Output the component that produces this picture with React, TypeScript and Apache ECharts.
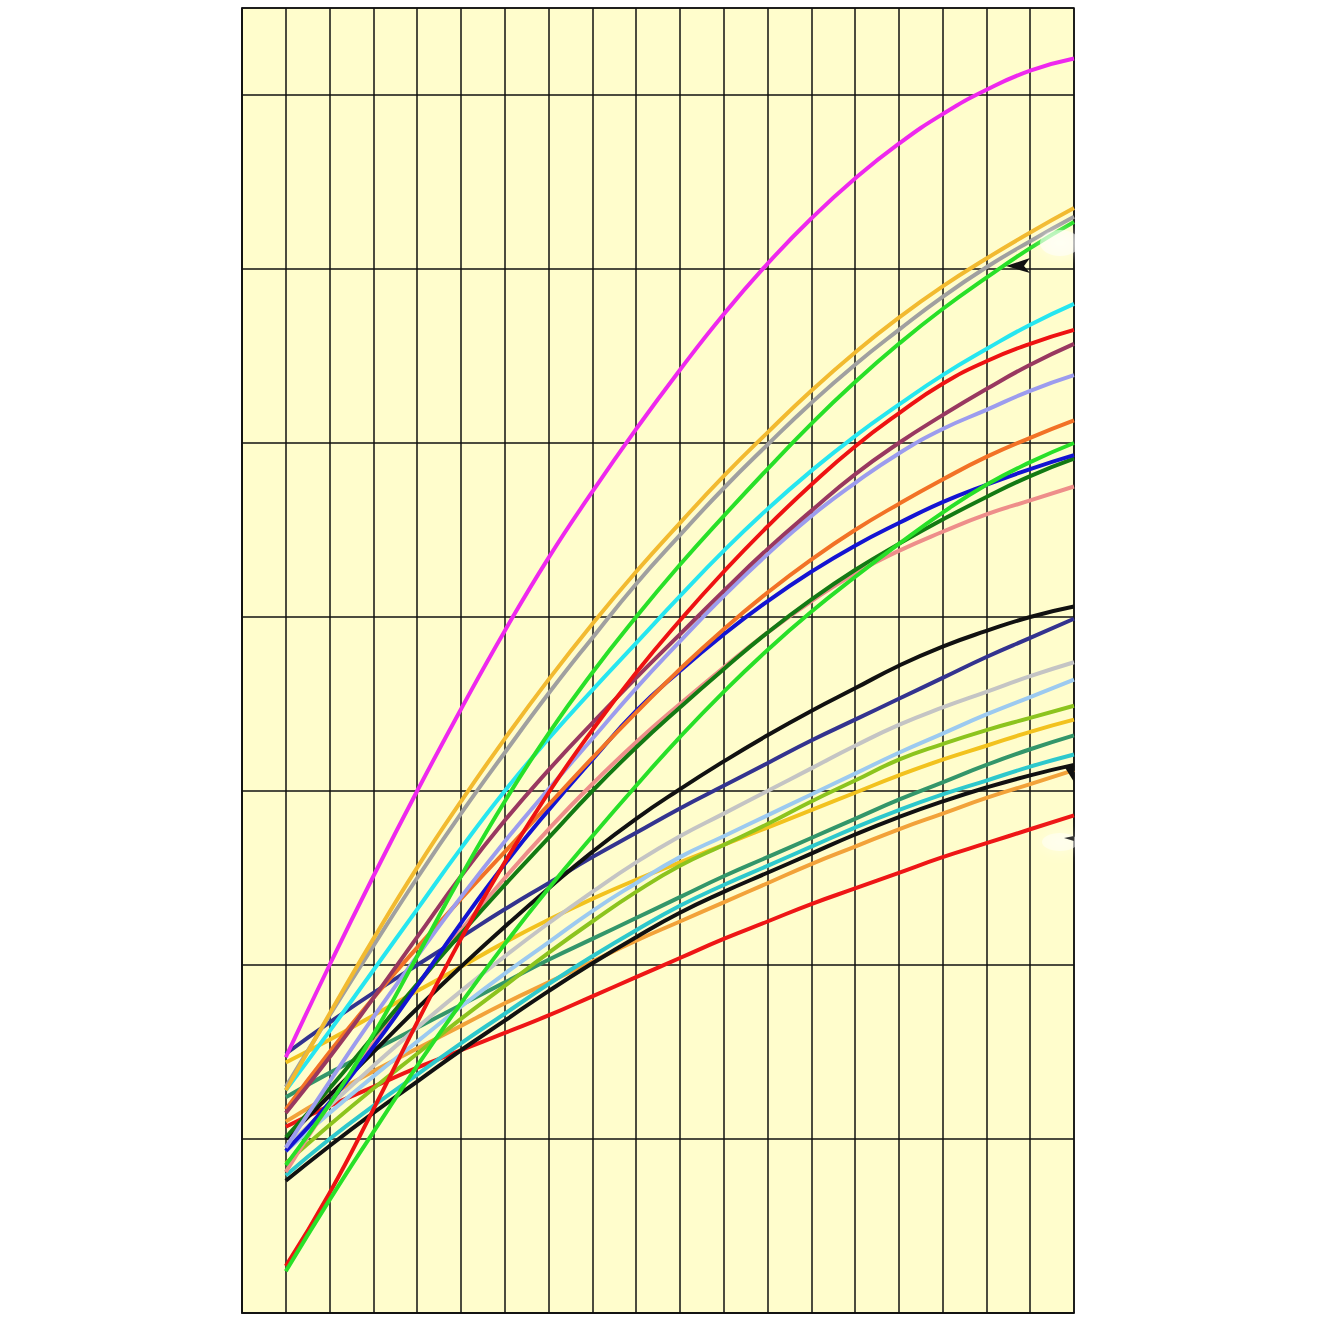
import React, { useEffect, useRef } from "react";
import * as echarts from "echarts";

const ages = [1, 2, 3, 4, 5, 6, 7, 8, 9, 10, 11, 12, 13, 14, 15, 16, 17, 18, 19];

const magenta = [1.47, 2.0, 2.51, 3.0, 3.47, 3.92, 4.34, 4.72, 5.08, 5.42, 5.74, 6.03, 6.29, 6.52, 6.72, 6.89, 7.03, 7.14, 7.21];
const goldTop = [1.28, 1.72, 2.15, 2.56, 2.94, 3.3, 3.64, 3.96, 4.26, 4.54, 4.81, 5.06, 5.3, 5.52, 5.72, 5.9, 6.06, 6.21, 6.35];
const gray = [1.3, 1.71, 2.11, 2.5, 2.87, 3.22, 3.56, 3.88, 4.19, 4.47, 4.74, 4.99, 5.23, 5.45, 5.65, 5.84, 6.01, 6.16, 6.3];
const greenTop = [0.85, 1.2, 1.6, 2.05, 2.51, 2.94, 3.33, 3.68, 4.0, 4.3, 4.58, 4.85, 5.11, 5.35, 5.57, 5.77, 5.95, 6.12, 6.27];
const greenLow = [0.24, 0.65, 1.04, 1.42, 1.78, 2.12, 2.44, 2.74, 3.03, 3.31, 3.57, 3.81, 4.03, 4.23, 4.42, 4.6, 4.76, 4.89, 5.0];
const cyan = [1.28, 1.62, 1.97, 2.32, 2.67, 3.0, 3.3, 3.58, 3.85, 4.12, 4.38, 4.62, 4.84, 5.04, 5.22, 5.39, 5.54, 5.68, 5.8];
const redTop = [0.27, 0.69, 1.17, 1.67, 2.15, 2.59, 2.99, 3.35, 3.68, 3.98, 4.26, 4.52, 4.76, 4.98, 5.17, 5.34, 5.47, 5.57, 5.65];
const purple = [1.15, 1.47, 1.81, 2.16, 2.51, 2.83, 3.12, 3.39, 3.65, 3.9, 4.15, 4.39, 4.61, 4.82, 5.0, 5.16, 5.31, 5.45, 5.57];
const lavender = [0.95, 1.33, 1.7, 2.05, 2.39, 2.71, 3.01, 3.3, 3.59, 3.86, 4.12, 4.36, 4.58, 4.77, 4.94, 5.08, 5.19, 5.3, 5.39];
const orange = [1.17, 1.5, 1.81, 2.1, 2.38, 2.65, 2.92, 3.19, 3.45, 3.7, 3.93, 4.14, 4.33, 4.5, 4.65, 4.79, 4.92, 5.03, 5.13];
const blue = [0.93, 1.21, 1.53, 1.88, 2.24, 2.58, 2.89, 3.18, 3.46, 3.69, 3.9, 4.09, 4.26, 4.41, 4.54, 4.66, 4.76, 4.85, 4.93];
const darkGreen = [1.01, 1.29, 1.59, 1.89, 2.18, 2.46, 2.73, 3.0, 3.25, 3.48, 3.7, 3.91, 4.1, 4.27, 4.42, 4.56, 4.69, 4.81, 4.91];
const salmon = [0.81, 1.2, 1.55, 1.88, 2.2, 2.5, 2.78, 3.04, 3.28, 3.5, 3.71, 3.91, 4.09, 4.25, 4.38, 4.49, 4.59, 4.67, 4.75];
const blackTop = [1.0, 1.25, 1.5, 1.75, 1.99, 2.22, 2.44, 2.65, 2.84, 3.01, 3.17, 3.32, 3.46, 3.59, 3.72, 3.83, 3.92, 4.0, 4.06];
const navy = [1.49, 1.67, 1.84, 2.0, 2.16, 2.32, 2.47, 2.62, 2.76, 2.9, 3.03, 3.16, 3.29, 3.41, 3.53, 3.65, 3.77, 3.88, 3.99];
const lightGray = [0.95, 1.19, 1.42, 1.64, 1.85, 2.05, 2.24, 2.42, 2.59, 2.74, 2.87, 3.0, 3.13, 3.26, 3.38, 3.48, 3.57, 3.66, 3.74];
const lightBlue = [0.93, 1.15, 1.36, 1.56, 1.76, 1.95, 2.13, 2.31, 2.47, 2.62, 2.74, 2.86, 2.98, 3.1, 3.22, 3.33, 3.44, 3.54, 3.64];
const yellowGreen = [0.86, 1.08, 1.29, 1.49, 1.69, 1.88, 2.07, 2.25, 2.42, 2.57, 2.69, 2.81, 2.94, 3.06, 3.18, 3.27, 3.35, 3.42, 3.49];
const goldLow = [1.44, 1.57, 1.71, 1.85, 1.99, 2.13, 2.26, 2.38, 2.49, 2.59, 2.69, 2.79, 2.89, 2.99, 3.09, 3.18, 3.26, 3.34, 3.41];
const seaGreen = [1.24, 1.38, 1.51, 1.64, 1.77, 1.9, 2.03, 2.15, 2.27, 2.39, 2.51, 2.62, 2.73, 2.84, 2.95, 3.05, 3.15, 3.24, 3.32];
const turquoise = [0.79, 1.0, 1.19, 1.37, 1.55, 1.72, 1.89, 2.05, 2.2, 2.34, 2.46, 2.57, 2.68, 2.79, 2.89, 2.98, 3.06, 3.14, 3.21];
const blackLow = [0.76, 0.96, 1.15, 1.33, 1.51, 1.68, 1.85, 2.01, 2.16, 2.3, 2.42, 2.53, 2.64, 2.75, 2.85, 2.94, 3.02, 3.09, 3.15];
const orangeLow = [1.1, 1.25, 1.39, 1.52, 1.65, 1.78, 1.9, 2.02, 2.14, 2.25, 2.36, 2.47, 2.58, 2.68, 2.78, 2.87, 2.96, 3.04, 3.12];
const redLow = [1.07, 1.19, 1.3, 1.41, 1.51, 1.61, 1.71, 1.82, 1.93, 2.04, 2.15, 2.25, 2.35, 2.44, 2.53, 2.62, 2.7, 2.78, 2.86];

const curves: [string, number[], string][] = [
  ["redLow", redLow, "#EE1616"],
  ["orangeLow", orangeLow, "#F2A23A"],
  ["blackLow", blackLow, "#111111"],
  ["turquoise", turquoise, "#2EC8CC"],
  ["seaGreen", seaGreen, "#33966A"],
  ["goldLow", goldLow, "#F2C21E"],
  ["yellowGreen", yellowGreen, "#8CC41E"],
  ["lightBlue", lightBlue, "#9CCAF0"],
  ["lightGray", lightGray, "#C4C4C4"],
  ["navy", navy, "#33338F"],
  ["blackTop", blackTop, "#111111"],
  ["salmon", salmon, "#EE8E8A"],
  ["darkGreen", darkGreen, "#137A13"],
  ["blue", blue, "#1414D2"],
  ["orange", orange, "#F27226"],
  ["lavender", lavender, "#9C9CEE"],
  ["purple", purple, "#993860"],
  ["redTop", redTop, "#EE1212"],
  ["cyan", cyan, "#26E6F0"],
  ["greenLow", greenLow, "#28E028"],
  ["greenTop", greenTop, "#28E028"],
  ["gray", gray, "#A0A0A0"],
  ["goldTop", goldTop, "#F2BA30"],
  ["magenta", magenta, "#EE28EE"],
];

export default function App() {
  const ref = useRef<HTMLDivElement>(null);
  useEffect(() => {
    if (!ref.current) return;
    const chart = echarts.init(ref.current, null, { renderer: "svg" });
    chart.setOption({
      animation: false,
      backgroundColor: "#ffffff",
      grid: {
        left: 242,
        right: 255,
        top: 8,
        bottom: 16,
        show: true,
        backgroundColor: "#FFFDCC",
        borderColor: "#111111",
        borderWidth: 1.5,
      },
      xAxis: {
        type: "value",
        min: 0,
        max: 19,
        interval: 1,
        axisLine: { show: true, lineStyle: { color: "#111111", width: 1.5 } },
        axisTick: { show: false },
        axisLabel: { show: false },
        splitLine: { show: true, lineStyle: { color: "#111111", width: 1.5 } },
      },
      yAxis: {
        type: "value",
        min: 0,
        max: 7.5,
        interval: 1,
        axisLine: { show: true, lineStyle: { color: "#111111", width: 1.5 } },
        axisTick: { show: false },
        axisLabel: { show: false },
        splitLine: { show: true, lineStyle: { color: "#111111", width: 1.5 } },
      },
      series: curves.map(([name, vals, color]) => ({
        name,
        type: "line",
        smooth: 0.5,
        symbol: "none",
        data: ages.map((a, i) => [a, vals[i]]),
        lineStyle: { color, width: 4 },
        z: 3,
      })),
      graphic: [
        {
          type: "ellipse",
          shape: { cx: 1060, cy: 243, rx: 20, ry: 13 },
          style: { fill: "rgba(255,255,255,0.55)", shadowBlur: 14, shadowColor: "rgba(255,255,255,0.9)" },
          z: 9,
        },
        {
          type: "ellipse",
          shape: { cx: 1060, cy: 842, rx: 18, ry: 9 },
          style: { fill: "rgba(255,255,255,0.45)", shadowBlur: 14, shadowColor: "rgba(255,255,255,0.9)" },
          z: 9,
        },
        {
          type: "polygon",
          shape: { points: [[1006, 266], [1030, 258], [1024, 266], [1030, 273]] },
          style: { fill: "#111111" },
          z: 10,
        },
        {
          type: "polygon",
          shape: { points: [[1064, 766], [1074, 766], [1074, 782]] },
          style: { fill: "#111111" },
          z: 10,
        },
        {
          type: "polygon",
          shape: { points: [[1064, 838], [1074, 836], [1074, 841]] },
          style: { fill: "#333333" },
          z: 10,
        },
      ],
    });
    return () => chart.dispose();
  }, []);
  return (
    <div
      ref={ref}
      style={{ position: "fixed", left: 0, top: 0, width: 1329, height: 1329 }}
    />
  );
}
